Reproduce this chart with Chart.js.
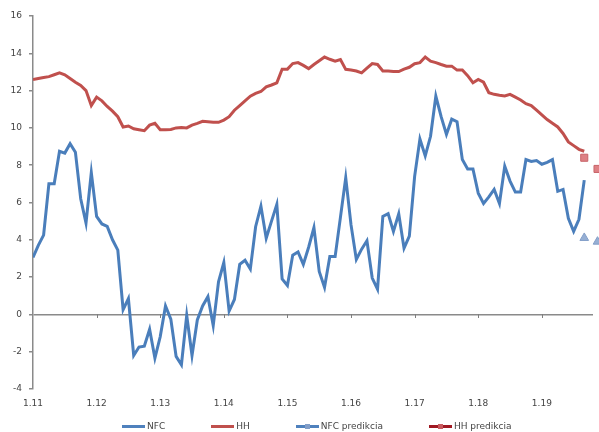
<!DOCTYPE html>
<html>
<head>
<meta charset="utf-8">
<script src="https://cdn.jsdelivr.net/npm/chart.js@4/dist/chart.umd.min.js"></script>
<style>
  body { margin: 0; background: #fff; }
  #wrap { position: relative; width: 599px; height: 432px; overflow: hidden; }
  #legend { position: absolute; left: 122px; top: 421px; display: flex; align-items: center;
            font: 9px "DejaVu Sans", sans-serif; color: #444; line-height: 11px; white-space: nowrap; }
  .item { display: flex; align-items: center; margin-right: 46px; }
  .swatch { position: relative; width: 23px; height: 3px; margin-right: 2px; }
  .mark { position: absolute; left: 9px; top: -1px; width: 5px; height: 5px; }
</style>
</head>
<body>
<div id="wrap">
  <canvas id="chart" width="599" height="432"></canvas>
  <div id="legend"></div>
</div>
<script>
// monthly series, Jan 2011 .. Sep 2019
var tickLabels = ["1.11", "1.12", "1.13", "1.14", "1.15", "1.16", "1.17", "1.18", "1.19"];

var nfc = [
  3.05, 3.7, 4.25, 7.0, 7.0, 8.75, 8.65, 9.15, 8.7, 6.2,
  4.9, 7.6, 5.25, 4.85, 4.72, 4.0, 3.45, 0.25, 0.85, -2.2,
  -1.75, -1.7, -0.8, -2.35, -1.2, 0.45, -0.25, -2.25, -2.7, -0.05,
  -2.2, -0.3, 0.45, 0.95, -0.6, 1.75, 2.78, 0.18, 0.8, 2.68,
  2.9, 2.43, 4.7, 5.8, 4.08, 5.0, 5.9, 1.9, 1.55, 3.18,
  3.35, 2.68, 3.6, 4.65, 2.3, 1.45, 3.1, 3.1, 5.2, 7.33,
  4.8, 2.95, 3.5, 3.95, 1.95, 1.35, 5.25, 5.4, 4.45, 5.4,
  3.55, 4.2, 7.4, 9.4, 8.5, 9.55, 11.7, 10.6, 9.65, 10.47,
  10.33, 8.3, 7.8, 7.8, 6.5, 5.95, 6.3, 6.7, 5.95, 7.95,
  7.15, 6.56, 6.56, 8.3, 8.2, 8.25, 8.05, 8.15, 8.3, 6.6,
  6.7, 5.15, 4.45, 5.1, 7.2
];

var hh = [
  12.6, 12.65, 12.7, 12.75, 12.85, 12.95, 12.85, 12.65, 12.45, 12.28,
  12.0, 11.2, 11.65, 11.45, 11.15, 10.9, 10.6, 10.05, 10.1, 9.95,
  9.9, 9.85, 10.15, 10.25, 9.9, 9.9, 9.92, 10.0, 10.02, 10.0,
  10.15, 10.24, 10.35, 10.33, 10.3, 10.3, 10.42, 10.6, 10.95, 11.2,
  11.45, 11.7, 11.85, 11.95, 12.2, 12.3, 12.42, 13.15, 13.15, 13.45,
  13.5, 13.35, 13.18, 13.4, 13.6, 13.8, 13.68, 13.58, 13.67, 13.14,
  13.1, 13.05, 12.95, 13.2, 13.45, 13.4, 13.05, 13.05, 13.03, 13.02,
  13.15, 13.25, 13.44, 13.5, 13.8, 13.58, 13.5, 13.4, 13.31, 13.31,
  13.1, 13.1, 12.8, 12.42, 12.6, 12.45, 11.89, 11.8, 11.75, 11.71,
  11.8, 11.65, 11.5, 11.3, 11.2, 10.95, 10.7, 10.45, 10.25, 10.05,
  9.7, 9.25, 9.05, 8.85, 8.75
];

// predictions (month position, value)
var predMonths = [104, 106.5];
var nfcPred = [4.1, 3.9];
var hhPred = [8.4, 7.8];

var toPoints = function (xs, ys) {
  return ys.map(function (v, i) { return { x: xs[i], y: v }; });
};
var months = nfc.map(function (v, i) { return i; });

var font = { family: "'DejaVu Sans', sans-serif", size: 9 };
var textColor = "#444";

var zeroTicks = {
  id: "zeroTicks",
  beforeDatasetsDraw: function (chart) {
    var ctx = chart.ctx, x = chart.scales.x, y = chart.scales.y;
    var y0 = Math.round(y.getPixelForValue(0));
    ctx.save();
    ctx.strokeStyle = "#7f7f7f";
    ctx.lineWidth = 1;
    x.ticks.forEach(function (t) {
      if (t.value === 0) return;
      var px = Math.round(x.getPixelForValue(t.value)) + 0.5;
      ctx.beginPath();
      ctx.moveTo(px, y0);
      ctx.lineTo(px, y0 + 4);
      ctx.stroke();
    });
    ctx.restore();
  }
};

var chart = new Chart(document.getElementById("chart").getContext("2d"), {
  type: "line",
  data: {
    datasets: [
      {
        label: "NFC",
        data: toPoints(months, nfc),
        borderColor: "rgb(74,126,187)",
        legendColor: "rgb(79,129,189)",
        borderWidth: 3,
        pointRadius: 0,
        tension: 0
      },
      {
        label: "HH",
        data: toPoints(months, hh),
        borderColor: "rgb(192,80,77)",
        legendColor: "rgb(192,80,77)",
        borderWidth: 3,
        pointRadius: 0,
        tension: 0
      },
      {
        label: "NFC predikcia",
        data: toPoints(predMonths, nfcPred),
        showLine: false,
        pointStyle: "triangle",
        pointRadius: 5,
        backgroundColor: "rgb(150,175,212)",
        borderColor: "rgb(130,158,200)",
        borderWidth: 1,
        legendColor: "rgb(79,129,189)",
        legendMark: "rgb(130,158,200)",
        clip: false
      },
      {
        label: "HH predikcia",
        data: toPoints(predMonths, hhPred),
        showLine: false,
        pointStyle: "rect",
        pointRadius: 5,
        backgroundColor: "rgb(222,128,132)",
        borderColor: "rgb(200,100,105)",
        borderWidth: 1,
        legendColor: "rgb(160,25,35)",
        legendMark: "rgb(200,90,95)",
        clip: false
      }
    ]
  },
  options: {
    responsive: false,
    animation: false,
    layout: { padding: { left: 0, right: 0, top: 16, bottom: 21 } },
    plugins: {
      tooltip: { enabled: false },
      legend: { display: false }
    },
    scales: {
      x: {
        type: "linear",
        min: 0,
        max: 105.65,
        border: { display: false },
        grid: { display: false, drawTicks: false },
        afterBuildTicks: function (scale) {
          scale.ticks = tickLabels.map(function (l, k) { return { value: k * 12 }; });
        },
        afterFit: function (scale) { scale.height = 22; },
        ticks: {
          font: font,
          color: textColor,
          padding: 9,
          maxRotation: 0,
          callback: function (v) { return tickLabels[Math.round(v / 12)] || ""; }
        }
      },
      y: {
        min: -4,
        max: 16,
        border: { color: "#8a8a8a", width: 1.5 },
        afterFit: function (scale) { scale.width = 33; },
        grid: {
          drawOnChartArea: true,
          color: function (c) { return c.tick && c.tick.value === 0 ? "#8a8a8a" : "rgba(0,0,0,0)"; },
          lineWidth: 1.5,
          tickColor: "#8a8a8a",
          tickLength: 4
        },
        ticks: {
          stepSize: 2,
          font: font,
          color: textColor,
          padding: 7
        }
      }
    }
  },
  plugins: [zeroTicks]
});

// legend as html text
var legend = document.getElementById("legend");
chart.data.datasets.forEach(function (ds) {
  var item = document.createElement("div");
  item.className = "item";
  var sw = document.createElement("span");
  sw.className = "swatch";
  sw.style.background = ds.legendColor;
  if (ds.legendMark) {
    var mk = document.createElement("span");
    mk.className = "mark";
    mk.style.background = ds.legendMark;
    sw.appendChild(mk);
  }
  var tx = document.createElement("span");
  tx.textContent = ds.label;
  item.appendChild(sw);
  item.appendChild(tx);
  legend.appendChild(item);
});
</script>
</body>
</html>
